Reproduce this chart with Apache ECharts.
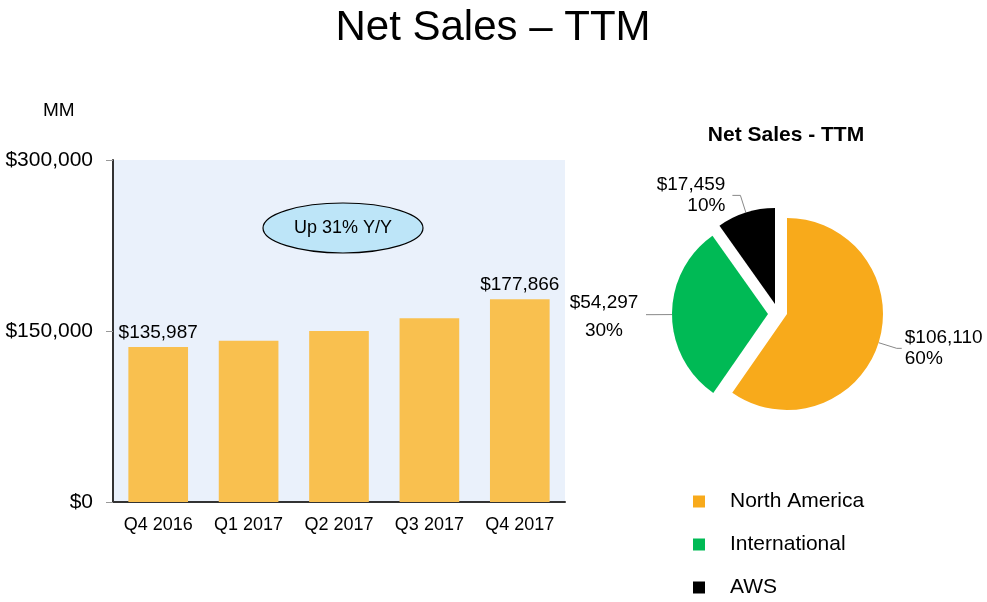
<!DOCTYPE html>
<html>
<head>
<meta charset="utf-8">
<script src="https://cdn.jsdelivr.net/npm/echarts@6/dist/echarts.min.js"></script>
<style>html,body{margin:0;padding:0;background:#fff}#c{width:987px;height:602px}</style>
</head>
<body>
<div id="c"></div>
<script>
var categories = ['Q4 2016', 'Q1 2017', 'Q2 2017', 'Q3 2017', 'Q4 2017'];
var netSales = [135987, 141366, 150108, 161154, 177866];
var labeledBars = [0, 4];
var yTicks = [0, 150000, 300000];
var segments = ['North America', 'International', 'AWS'];
var segmentValues = [106110, 54297, 17459];
var segmentPct = ['60%', '30%', '10%'];
var segmentColors = ['#F8AA1B', '#00BA55', '#000000'];

var FONT = '"Liberation Sans", Arial, sans-serif';
function money(v) { return '$' + v.toLocaleString('en-US'); }

var PIE_C = [787, 314], PIE_R = 96;
var AWS_SHIFT = [-12, -10];   // explosion of the AWS slice (style)
var TRANSPARENT = 'rgba(0,0,0,0)';

function pieData(visible) {
  return segments.map(function (n, i) {
    var show = visible.indexOf(i) >= 0;
    var item = { name: n, value: segmentValues[i],
                 selected: show && i === 1,
                 itemStyle: { color: show ? segmentColors[i] : TRANSPARENT },
                 label: { show: show },
                 labelLine: { show: show } };
    if (i === 0) {
      item.label.distanceToLabelLine = 3;
      item.labelLine.length = 19;
      item.labelLine.length2 = 5;
    }
    if (i === 1) {
      item.label.formatter = '{a|' + money(segmentValues[i]) + '}\n{b|' + segmentPct[i] + '}';
      item.label.rich = {
        a: { width: 70, align: 'center', fontSize: 19, lineHeight: 32, fontFamily: FONT, color: '#000' },
        b: { width: 70, align: 'center', fontSize: 19, lineHeight: 24, fontFamily: FONT, color: '#000' }
      };
    }
    return item;
  });
}

var pieCommon = {
  type: 'pie', radius: PIE_R, startAngle: 90, clockwise: true,
  selectedMode: 'multiple', selectedOffset: 19, silent: true,
  label: {
    position: 'outside', color: '#000', fontSize: 19, lineHeight: 21, fontFamily: FONT,
    distanceToLabelLine: 7, overflow: 'none', edgeDistance: 0, bleedMargin: 0,
    formatter: function (p) { return money(p.value) + '\n' + segmentPct[p.dataIndex]; }
  },
  labelLine: { length: 18, length2: 8, lineStyle: { color: '#888', width: 1 } },
  emphasis: { disabled: true }
};

var chart = echarts.init(document.getElementById('c'));
chart.setOption({
  animation: false,
  textStyle: { fontFamily: FONT },
  title: [
    { text: 'Net Sales – TTM', left: 488, textAlign: 'center', top: 2,
      textStyle: { fontSize: 42, fontWeight: 'normal', color: '#000', fontFamily: FONT } },
    { text: 'Net Sales - TTM', left: 781, textAlign: 'center', top: 120,
      textStyle: { fontSize: 21, fontWeight: 'bold', color: '#000', fontFamily: FONT } },
    { text: 'MM', left: 38, top: 96,
      textStyle: { fontSize: 19, fontWeight: 'normal', color: '#000', fontFamily: FONT } }
  ],
  grid: { left: 113, top: 160, right: 422, bottom: 100, show: true,
          backgroundColor: '#EAF1FB', borderWidth: 0 },
  xAxis: {
    type: 'category', data: categories,
    axisLine: { lineStyle: { color: '#333', width: 2 } },
    axisTick: { alignWithLabel: true, length: 5, lineStyle: { color: '#999' } },
    axisLabel: { color: '#000', fontSize: 18, margin: 14, fontFamily: FONT }
  },
  yAxis: {
    type: 'value', min: yTicks[0], max: yTicks[yTicks.length - 1], interval: yTicks[1] - yTicks[0],
    axisLine: { show: true, lineStyle: { color: '#333', width: 2 } },
    axisTick: { show: true, length: 7, lineStyle: { color: '#999' } },
    splitLine: { show: false },
    axisLabel: { color: '#000', fontSize: 21, margin: 20, fontFamily: FONT,
                 formatter: function (v) { return money(v); } }
  },
  legend: {
    orient: 'vertical', left: 693, top: 491, icon: 'rect', padding: 0,
    itemWidth: 12, itemHeight: 12, itemGap: 22,
    data: segments.map(function (n, i) { return { name: n, itemStyle: { color: segmentColors[i] } }; }),
    textStyle: { fontSize: 21, color: '#000', padding: [0, 0, 0, 20], fontFamily: FONT },
    selectedMode: false
  },
  series: [
    {
      type: 'bar', data: netSales.map(function (v, i) {
        return { value: v, label: { show: labeledBars.indexOf(i) >= 0 } };
      }),
      barWidth: '66%',
      itemStyle: { color: '#F9C04F' },
      label: { position: 'top', distance: 5, color: '#000', fontSize: 19, fontFamily: FONT,
               formatter: function (p) { return money(p.value); } }
    },
    Object.assign({}, pieCommon, { center: PIE_C, data: pieData([0, 1]) }),
    Object.assign({}, pieCommon, { center: [PIE_C[0] + AWS_SHIFT[0], PIE_C[1] + AWS_SHIFT[1]],
                                   data: pieData([2]) })
  ],
  graphic: [
    { type: 'ellipse', shape: { cx: 343, cy: 228, rx: 80, ry: 25 },
      style: { fill: '#BDE5F8', stroke: '#000', lineWidth: 1.2 }, z: 10 },
    { type: 'text', x: 343, y: 228, z: 11,
      style: { text: 'Up 31% Y/Y', fill: '#000', font: '18px ' + FONT,
               textAlign: 'center', textVerticalAlign: 'middle' } }
  ]
});
</script>
</body>
</html>
